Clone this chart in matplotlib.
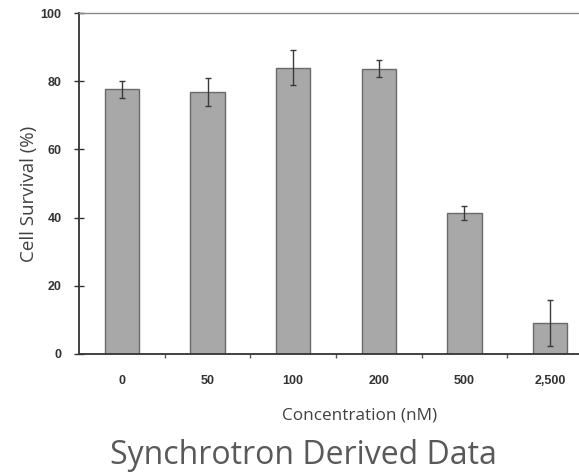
import matplotlib
matplotlib.use("Agg")
import matplotlib.pyplot as plt
import numpy as np

categories = ["0", "50", "100", "200", "500", "2,500"]
survival = [77.7, 76.7, 84.0, 83.7, 41.3, 9.0]
errors = [2.5, 4.1, 5.1, 2.6, 2.0, 6.8]
y_ticks = [0, 20, 40, 60, 80, 100]

W, H = 579, 474
fig = plt.figure(figsize=(W / 100, H / 100), dpi=100)
fig.patch.set_facecolor("white")

left = 79 / W
bottom = 1 - 354 / H
top = 1 - 13 / H
ax = fig.add_axes([left, bottom, 514 / W, top - bottom])

x = np.arange(len(categories))
ax.bar(x, survival, width=0.40, color="#a8a8a8", edgecolor="#6a6a6a", linewidth=1.0, zorder=2)
ax.errorbar(x, survival, yerr=errors, fmt="none", ecolor="#3a3a3a", elinewidth=1.0,
            capsize=2, capthick=1.0, zorder=3)

ax.set_xlim(-0.5, len(categories) - 0.5)
ax.set_ylim(0, 100)

ax.spines["right"].set_visible(False)
ax.spines["top"].set_color("#8a8a8a")
ax.spines["top"].set_linewidth(1.0)
for s in ["left", "bottom"]:
    ax.spines[s].set_color("#333333")
    ax.spines[s].set_linewidth(1.3)

tick_font = dict(family=["Liberation Sans Narrow", "Liberation Sans", "DejaVu Sans"],
                 weight="bold", size=9)

ax.set_yticks(y_ticks)
ax.set_yticklabels([str(v) for v in y_ticks], **tick_font, color="#333333")
ax.tick_params(axis="y", direction="inout", length=7, width=1.0, color="#333333", pad=9)

ax.set_xticks(x)
ax.set_xticklabels(categories, **tick_font, color="#333333")
ax.tick_params(axis="x", which="major", length=0, pad=15)
ax.set_xticks(np.arange(len(categories) - 1) + 0.5, minor=True)
ax.tick_params(axis="x", which="minor", direction="out", length=3, width=1.0, color="#555555")

fam = ["Open Sans", "DejaVu Sans"]
fig.text(29 / W, 1 - 194 / H, "Cell Survival (%)", rotation=90, ha="center", va="center",
         family=fam, size=13.5, color="#404040")
fig.text(360 / W, 1 - 415 / H, "Concentration (nM)", ha="center", va="center",
         family=fam, size=12.3, color="#404040")

fig.text(303 / W, 1 - 456 / H, "Synchrotron Derived Data", ha="center", va="center",
         family=fam, size=23, color="#595959")

fig.savefig("out.png", dpi=100)
